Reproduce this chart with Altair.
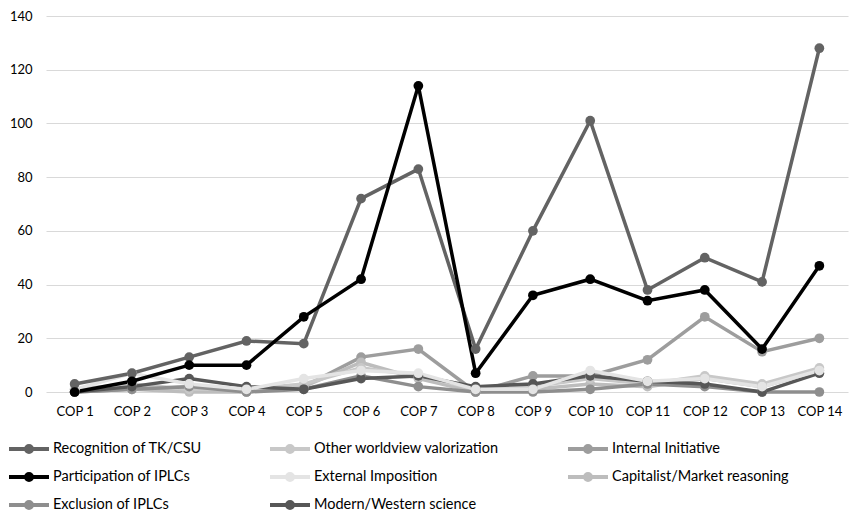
import altair as alt
import pandas as pd

cops = [f"COP {i}" for i in range(1, 15)]

recognition = [3, 7, 13, 19, 18, 72, 83, 16, 60, 101, 38, 50, 41, 128]
participation = [0, 4, 10, 10, 28, 42, 114, 7, 36, 42, 34, 38, 16, 47]
exclusion = [0, 1, 2, 0, 1, 6, 2, 0, 0, 1, 3, 2, 0, 0]
other_worldview = [1, 3, 1, 1, 3, 9, 6, 1, 2, 5, 3, 6, 3, 9]
external_imposition = [1, 7, 3, 1, 5, 8, 7, 1, 1, 8, 4, 5, 2, 8]
modern_western = [0, 2, 5, 2, 1, 5, 6, 2, 3, 6, 4, 3, 0, 7]
internal_initiative = [0, 1, 2, 0, 2, 13, 16, 0, 6, 6, 12, 28, 15, 20]
capitalist = [1, 1, 0, 0, 2, 11, 5, 0, 1, 3, 2, 5, 2, 8]

draw_order = [
    ("Internal Initiative", internal_initiative),
    ("Capitalist/Market reasoning", capitalist),
    ("Other worldview valorization", other_worldview),
    ("Exclusion of IPLCs", exclusion),
    ("Modern/Western science", modern_western),
    ("External Imposition", external_imposition),
    ("Recognition of TK/CSU", recognition),
    ("Participation of IPLCs", participation),
]

legend_order = [
    "Recognition of TK/CSU", "Other worldview valorization", "Internal Initiative",
    "Participation of IPLCs", "External Imposition", "Capitalist/Market reasoning",
    "Exclusion of IPLCs", "Modern/Western science",
]
colors = ["#636363", "#c8c8c8", "#9d9d9d", "#000000", "#e4e4e4", "#bdbdbd", "#8e8e8e", "#575757"]

rows = []
for name, vals in draw_order:
    for c, v in zip(cops, vals):
        rows.append({"cop": c, "value": v, "series": name})
df = pd.DataFrame(rows)

FONT = "Lato"
sym = "M-1,0L3,0M0.7,0A0.3,0.3,0,1,1,1.3,0A0.3,0.3,0,1,1,0.7,0Z"

color_scale = alt.Scale(domain=legend_order, range=colors)
legend = alt.Legend(
    title=None, orient="none", legendX=-39, legendY=421, direction="horizontal",
    columns=3, symbolType=sym, symbolSize=400, symbolStrokeWidth=4,
    labelFontSize=14.5, labelFont=FONT, labelColor="#000000", labelOffset=22,
    rowPadding=5, columnPadding=60, labelLimit=400,
)

x = alt.X("cop:N", sort=cops, scale=alt.Scale(type="point", padding=0.5),
          axis=alt.Axis(title=None, labelAngle=0, ticks=False, domain=False, labelPadding=13,
                        labelFontSize=13, labelFont=FONT, labelColor="#000000", grid=False))
y = alt.Y("value:Q", scale=alt.Scale(domain=[0, 140], nice=False),
          axis=alt.Axis(title=None, values=list(range(0, 141, 20)), ticks=False, domain=False,
                        labelPadding=14, labelFontSize=13, labelFont=FONT, labelColor="#000000",
                        gridColor="#d9d9d9", gridWidth=1.2))

lines = alt.Chart(df).mark_line(strokeWidth=3.5).encode(
    x=x, y=y, color=alt.Color("series:N", scale=color_scale, legend=legend),
)
points = alt.Chart(df).mark_point(filled=True, size=95, opacity=1).encode(
    x=x, y=y, color=alt.Color("series:N", scale=color_scale, legend=legend),
)

chart = alt.layer(lines, points).properties(
    width=802, height=376,
    autosize=alt.AutoSizeParams(type="none"),
    padding={"left": 38, "top": 8, "right": 4, "bottom": 120},
).configure_view(stroke=None)

chart.save("out.html", embed_options={"renderer": "svg", "actions": False})
